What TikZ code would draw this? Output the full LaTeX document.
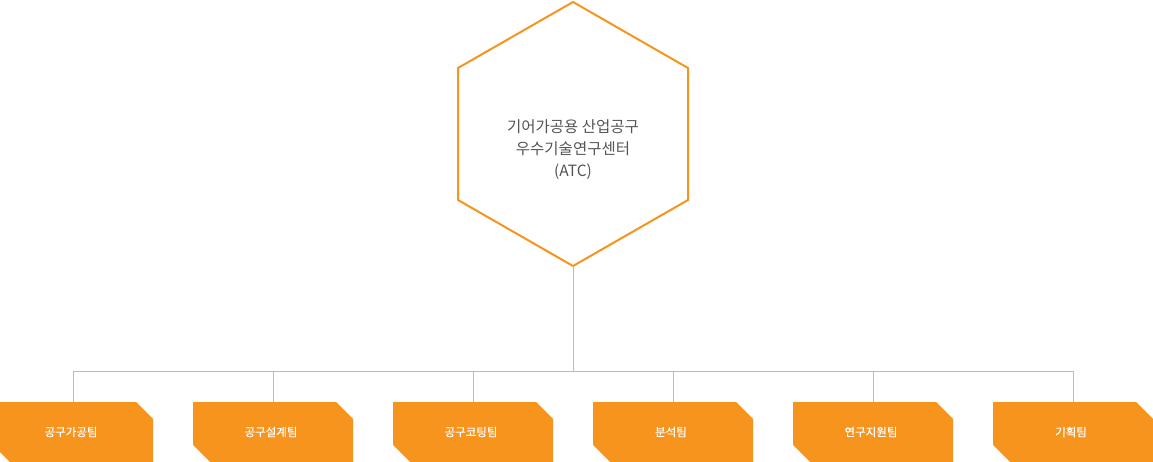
\documentclass[tikz,border=0pt]{standalone}
\usepackage{fontspec}
\setmainfont{Noto Sans CJK KR}
\newfontfamily\krbold[FakeBold=0.3]{Noto Sans CJK KR}
\definecolor{org}{HTML}{F7941D}
\definecolor{txt}{HTML}{555555}
\definecolor{ln}{HTML}{BBBBBB}
\begin{document}
\begin{tikzpicture}[x=1pt,y=-1pt,
  team/.style={fill=org,draw=none},
  tlabel/.style={text=white,font=\krbold\fontsize{11.5}{13}\selectfont},
  conn/.style={draw=ln,line width=0.8pt}]
\useasboundingbox (0,0) rectangle (1153,462);
\draw[draw=org,line width=2pt,fill=white] (573,2) -- (688,68) -- (688,200) -- (573,266) -- (458,200) -- (458,68) -- cycle;
\node[align=center,text=txt,font=\fontsize{15.5}{22}\selectfont] (atc) at (573,150) {기어가공용 산업공구\\우수기술연구센터\\(ATC)};
\coordinate (hb) at (573,266);
\coordinate (hj) at (573,371);
\draw[conn] (hb) -- (hj);
\draw[conn] (73,371) -- (1073,371);
\foreach \cx/\t [count=\i] in {73/공구가공팀,273/공구설계팀,473/공구코팅팀,673/분석팀,873/연구지원팀,1073/기획팀}{
  \coordinate (j\i) at (\cx,371);
  \coordinate (t\i) at (\cx,402);
  \draw[conn] (j\i) -- (t\i);
  \fill[team] (\cx-80,402) -- (\cx+63,402) -- (\cx+80,419) -- (\cx+80,462) -- (\cx-63,462) -- (\cx-80,445) -- cycle;
  \node[tlabel] (n\i) at (\cx-2,432) {\t};
}
\end{tikzpicture}
\end{document}
